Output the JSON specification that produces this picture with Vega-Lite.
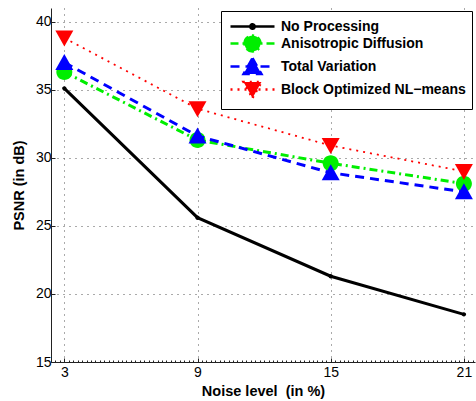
{
  "$schema": "https://vega.github.io/schema/vega-lite/v6.json",
  "width": 424,
  "height": 354,
  "autosize": "none",
  "padding": {"left": 51, "top": 8, "right": 1, "bottom": 39},
  "background": "white",
  "config": {
    "view": {"stroke": null},
    "font": "Liberation Sans",
    "axis": {
      "domainColor": "#222222",
      "domainWidth": 1,
      "tickColor": "#222222",
      "labelColor": "black",
      "labelFont": "Liberation Sans",
      "labelFontSize": 14,
      "titleFont": "Liberation Sans",
      "titleFontSize": 14.5,
      "titleFontWeight": "bold",
      "titleColor": "black",
      "gridColor": "#555555",
      "gridDash": [1, 5],
      "gridWidth": 1,
      "labelOverlap": false,
      "labelFlush": false
    }
  },
  "data": {
    "values": [
      {"noise": 3, "psnr": 35.1, "method": "No Processing"},
      {"noise": 9, "psnr": 25.6, "method": "No Processing"},
      {"noise": 15, "psnr": 21.3, "method": "No Processing"},
      {"noise": 21, "psnr": 18.5, "method": "No Processing"},
      {"noise": 3, "psnr": 36.3, "method": "Anisotropic Diffusion"},
      {"noise": 9, "psnr": 31.3, "method": "Anisotropic Diffusion"},
      {"noise": 15, "psnr": 29.6, "method": "Anisotropic Diffusion"},
      {"noise": 21, "psnr": 28.1, "method": "Anisotropic Diffusion"},
      {"noise": 3, "psnr": 37.0, "method": "Total Variation"},
      {"noise": 9, "psnr": 31.6, "method": "Total Variation"},
      {"noise": 15, "psnr": 28.9, "method": "Total Variation"},
      {"noise": 21, "psnr": 27.5, "method": "Total Variation"},
      {"noise": 3, "psnr": 38.8, "method": "Block Optimized NL−means"},
      {"noise": 9, "psnr": 33.6, "method": "Block Optimized NL−means"},
      {"noise": 15, "psnr": 30.9, "method": "Block Optimized NL−means"},
      {"noise": 21, "psnr": 29.0, "method": "Block Optimized NL−means"}
    ]
  },
  "encoding": {
    "x": {"field": "noise", "type": "quantitative",
      "scale": {"domain": [2.4, 21.5], "nice": false, "zero": false},
      "axis": {
        "tickCount": 95,
        "title": "Noise level\u00a0\u00a0(in %)",
        "grid": true,
        "gridOpacity": {"condition": {"test": "abs(datum.value - round(datum.value)) < 0.01 && round(datum.value) % 6 == 3", "value": 1}, "value": 0},
        "tickSize": {"condition": {"test": "abs(datum.value - round(datum.value)) < 0.01 && round(datum.value) % 6 == 3", "value": -4}, "value": -2},
        "labelExpr": "abs(datum.value - round(datum.value)) < 0.01 && round(datum.value) % 6 == 3 ? '' + round(datum.value) : ''",
        "labelPadding": 7,
        "titlePadding": 3
      }},
    "y": {"field": "psnr", "type": "quantitative",
      "scale": {"domain": [15, 41], "nice": false, "zero": false},
      "axis": {"values": [15, 20, 25, 30, 35, 40], "title": "PSNR (in dB)", "tickSize": -4, "labelPadding": 4, "titlePadding": 9, "grid": true}}
  },
  "layer": [
    {
      "transform": [{"filter": "datum.noise < 0"}],
      "mark": {"type": "point", "filled": true, "opacity": 1, "size": 256, "strokeWidth": 2.5},
      "encoding": {
        "color": {"field": "method", "type": "nominal",
          "scale": {"domain": ["No Processing", "Anisotropic Diffusion", "Total Variation", "Block Optimized NL−means"],
                    "range": ["#000000", "#00ee00", "#0000ff", "#ff0000"]},
          "legend": {
            "title": null, "orient": "top-right", "offset": 3,
            "padding": 6, "rowPadding": -12,
            "symbolSize": 256, "symbolOffset": 16, "labelOffset": 19,
            "symbolStrokeWidth": 2.5,
            "labelFont": "Liberation Sans", "labelFontWeight": "bold", "labelFontSize": 14,
            "labelColor": "black", "labelLimit": 400,
            "strokeColor": "black", "fillColor": "white", "cornerRadius": 0
          }},
        "stroke": {"field": "method", "type": "nominal",
          "scale": {"domain": ["No Processing", "Anisotropic Diffusion", "Total Variation", "Block Optimized NL−means"],
                    "range": ["#000000", "#00ee00", "#0000ff", "#ff0000"]}},
        "strokeDash": {"field": "method", "type": "nominal",
          "scale": {"domain": ["No Processing", "Anisotropic Diffusion", "Total Variation", "Block Optimized NL−means"],
                    "range": [[1, 0], [8, 4, 2, 4], [9, 6], [2, 5]]}},
        "shape": {"field": "method", "type": "nominal",
          "scale": {"domain": ["No Processing", "Anisotropic Diffusion", "Total Variation", "Block Optimized NL−means"],
                    "range": [
                      "M-2.75,0L2.75,0M-0.28,0A0.28,0.28,0,1,1,0.28,0A0.28,0.28,0,1,1,-0.28,0Z",
                      "M-2.75,0L2.75,0M-1,0A1,1,0,1,1,1,0A1,1,0,1,1,-1,0Z",
                      "M-2.75,0L2.75,0M0,-1.06L1.12,0.94L-1.12,0.94Z",
                      "M-2.75,0L2.75,0M0,1.06L1.12,-0.94L-1.12,-0.94Z"
                    ]}}
      }
    },
    {
      "transform": [{"filter": "datum.method == 'No Processing'"}],
      "mark": {"type": "line", "color": "#000000", "strokeWidth": 3, "strokeCap": "butt"}
    },
    {
      "transform": [{"filter": "datum.method == 'No Processing'"}],
      "mark": {"type": "point", "filled": true, "opacity": 1, "color": "#000000", "size": 400, "shape": "M-0.22,0A0.22,0.22,0,1,1,0.22,0A0.22,0.22,0,1,1,-0.22,0Z"}
    },
    {
      "transform": [{"filter": "datum.method == 'Anisotropic Diffusion'"}],
      "mark": {"type": "line", "color": "#00ee00", "strokeWidth": 3, "strokeDash": [8, 4, 2, 4], "strokeCap": "butt"}
    },
    {
      "transform": [{"filter": "datum.method == 'Anisotropic Diffusion'"}],
      "mark": {"type": "point", "filled": true, "opacity": 1, "color": "#00ee00", "size": 400, "shape": "M-0.8,0A0.8,0.8,0,1,1,0.8,0A0.8,0.8,0,1,1,-0.8,0Z"}
    },
    {
      "transform": [{"filter": "datum.method == 'Total Variation'"}],
      "mark": {"type": "line", "color": "#0000ff", "strokeWidth": 3, "strokeDash": [9, 6], "strokeCap": "butt"}
    },
    {
      "transform": [{"filter": "datum.method == 'Total Variation'"}],
      "mark": {"type": "point", "filled": true, "opacity": 1, "color": "#0000ff", "size": 400, "shape": "M0,-0.85L0.9,0.75L-0.9,0.75Z"}
    },
    {
      "transform": [{"filter": "datum.method == 'Block Optimized NL−means'"}],
      "mark": {"type": "line", "color": "#ff0000", "strokeWidth": 1.8, "strokeDash": [2, 5], "strokeCap": "butt"}
    },
    {
      "transform": [{"filter": "datum.method == 'Block Optimized NL−means'"}],
      "mark": {"type": "point", "filled": true, "opacity": 1, "color": "#ff0000", "size": 400, "shape": "M0,0.85L0.9,-0.75L-0.9,-0.75Z"}
    }
  ]
}
